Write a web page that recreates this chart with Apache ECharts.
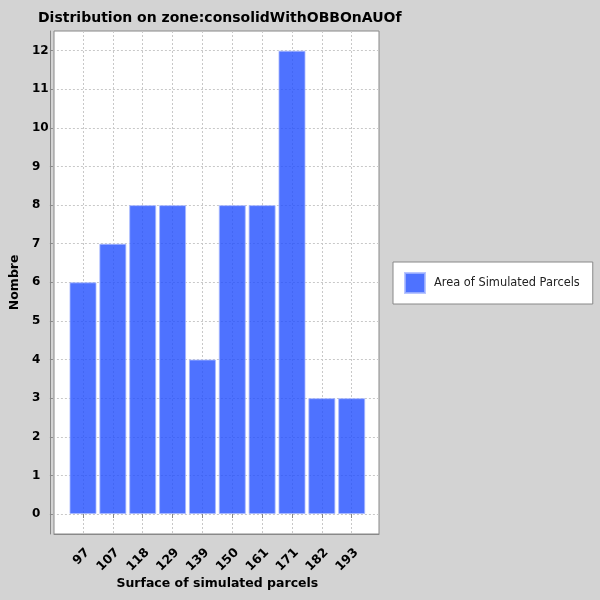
<!DOCTYPE html>
<html>
<head>
<meta charset="utf-8">
<script src="https://cdn.jsdelivr.net/npm/echarts@6/dist/echarts.min.js"></script>
<style>
    html, body { margin: 0; padding: 0; background: #d3d3d3; }
    #main { width: 600px; height: 600px; }
</style>
</head>
<body>
<div id="main"></div>
<script>
// surfaces des parcelles simulées (classes)
var categories = ['97', '107', '118', '129', '139', '150', '161', '171', '182', '193'];
// nombre de parcelles par classe
var counts = [6, 7, 8, 8, 4, 8, 8, 12, 3, 3];
var seriesName = 'Area of Simulated Parcels';

var font = 'DejaVu Sans';
var gridColor = '#c8c8c8';
var axisColor = '#888888';

var chart = echarts.init(document.getElementById('main'));

var option = {
    backgroundColor: '#d3d3d3',
    animation: false,
    title: {
        text: 'Distribution on zone:consolidWithOBBOnAUOf',
        left: 38,
        top: 11,
        padding: 0,
        textStyle: { fontFamily: font, fontSize: 14, fontWeight: 'bold', color: '#000' }
    },
    legend: {
        data: [seriesName],
        left: 393,
        top: 262,
        orient: 'vertical',
        padding: [10, 13, 10, 11],
        itemWidth: 20,
        itemHeight: 20,
        icon: 'rect',
        backgroundColor: '#fff',
        borderColor: axisColor,
        borderWidth: 1,
        textStyle: { fontFamily: font, fontSize: 11.4, color: '#222', padding: [0, 0, 0, 4] }
    },
    grid: [
        // cadre blanc du graphe
        { left: 54, right: 221, top: 31, bottom: 66, show: true, backgroundColor: '#fff', borderColor: axisColor, borderWidth: 1, z: -1 },
        // lignes verticales + barres
        { left: 83, right: 248.3, top: 31, bottom: 66 },
        // axe des valeurs
        { left: 54, right: 221, top: 50.7, bottom: 86 }
    ],
    xAxis: [
        {
            gridIndex: 0, type: 'category', data: categories, offset: 6,
            axisLine: { show: true, lineStyle: { color: axisColor } },
            axisTick: { show: false }, axisLabel: { show: false }, splitLine: { show: false }
        },
        {
            gridIndex: 1, type: 'category', data: categories, boundaryGap: false, offset: 6,
            name: 'Surface of simulated parcels',
            nameLocation: 'middle',
            nameGap: 37,
            nameMoveOverlap: false,
            nameTextStyle: { fontFamily: font, fontSize: 12.5, fontWeight: 'bold', color: '#000' },
            axisLine: { show: false },
            axisTick: { show: true, length: 4, lineStyle: { color: axisColor } },
            axisLabel: { rotate: 45, margin: 6, verticalAlign: 'top', fontFamily: font, fontSize: 12.5, fontWeight: 'bold', color: '#000' },
            splitLine: { show: true, lineStyle: { color: gridColor, type: [2, 2], width: 1 } }
        },
        {
            gridIndex: 2, type: 'category', data: categories, show: false
        }
    ],
    yAxis: [
        {
            gridIndex: 0, type: 'value', min: 0, max: 1, offset: 4,
            axisLine: { show: true, lineStyle: { color: axisColor } },
            axisTick: { show: false }, axisLabel: { show: false }, splitLine: { show: false }
        },
        {
            gridIndex: 1, type: 'value', min: -0.518, max: 12.51, show: false
        },
        {
            gridIndex: 2, type: 'value', min: 0, max: 12, interval: 1, offset: 4,
            name: 'Nombre',
            nameLocation: 'middle',
            nameGap: 30,
            nameTextStyle: { fontFamily: font, fontSize: 12.5, fontWeight: 'bold', color: '#000' },
            axisLine: { show: false },
            axisTick: { show: true, length: 3, lineStyle: { color: axisColor } },
            axisLabel: { margin: 21, align: 'left', fontFamily: font, fontSize: 12, fontWeight: 'bold', color: '#000' },
            splitLine: { show: true, lineStyle: { color: gridColor, type: [2, 2], width: 1 } }
        }
    ],
    series: [
        {
            name: seriesName,
            type: 'bar',
            xAxisIndex: 1,
            yAxisIndex: 1,
            data: counts,
            barWidth: 27,
            clip: false,
            itemStyle: { color: '#224fff', opacity: 0.8, borderColor: '#a8b8ff', borderWidth: 1 },
            emphasis: { disabled: true }
        }
    ]
};

chart.setOption(option);
</script>
</body>
</html>
